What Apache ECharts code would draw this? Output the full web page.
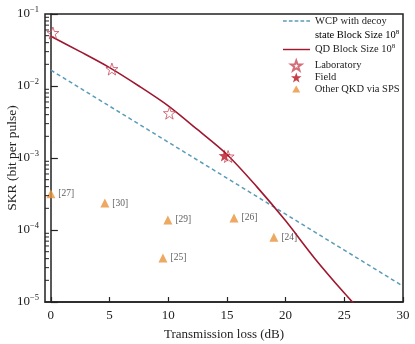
<!DOCTYPE html>
<html><head><meta charset="utf-8">
<script src="https://cdn.jsdelivr.net/npm/echarts@6/dist/echarts.min.js"></script>
<style>html,body{margin:0;padding:0;background:#fff}#c{width:415px;height:344px}</style>
</head><body><div id="c"></div>
<script>
// ---- data ----
const wcpX = [0, 5, 10, 15, 20, 25, 30];
const wcpY = [0.0166, 0.00525, 0.00166, 0.000525, 0.000166, 0.0000525, 0.0000166];
const qdX = [0, 2.5, 5, 7.5, 10, 12.5, 15, 17.5, 20, 22.5, 25, 26.5];
const qdY = [0.049, 0.030, 0.0180, 0.0100, 0.0053, 0.00247, 0.00112, 0.000407, 0.000134, 0.000040, 0.0000133, 0.0000072];
const labX = [0.17, 5.2, 10.1, 15.1];
const labY = [0.0545, 0.0172, 0.0042, 0.00105];
const fieldX = [14.8];
const fieldY = [0.00108];
const spsX = [0.0, 4.6, 9.97, 15.6, 19.0, 9.55];
const spsY = [0.00032, 0.000237, 0.000138, 0.000147, 0.000079, 0.000041];
const spsRefs = ['[27]', '[30]', '[29]', '[26]', '[24]', '[25]'];
const xTicks = [0, 5, 10, 15, 20, 25, 30];
const yTickExps = ['−5', '−4', '−3', '−2', '−1'];
const yMinorTicks = [];
for (let e = -5; e < -1; e++) for (let m = 2; m <= 9; m++) yMinorTicks.push(m * Math.pow(10, e));

const names = {
  wcp: 'WCP with decoy state Block Size 10^8',
  qd: 'QD Block Size 10^8',
  lab: 'Laboratory',
  field: 'Field',
  sps: 'Other QKD via SPS'
};
const FONT = 'Liberation Serif';
const LFS = 10.5;
const STAR = 'path://M0,-10 L2.35,-3.24 L9.51,-3.09 L3.8,1.24 L5.88,8.09 L0,4 L-5.88,8.09 L-3.8,1.24 L-9.51,-3.09 L-2.35,-3.24 Z';
const TRI_ICON = 'path://M-1.25,-1.25 M1.25,1.25 M0,-0.9 L1,0.9 L-1,0.9 Z';
const DASH_ICON = 'path://M0,0 L3.5,0 L3.5,1.4 L0,1.4 Z M5.5,0 L9,0 L9,1.4 L5.5,1.4 Z M11,0 L14.5,0 L14.5,1.4 L11,1.4 Z M16.5,0 L20,0 L20,1.4 L16.5,1.4 Z M22,0 L25.5,0 L25.5,1.4 L22,1.4 Z';
const LINE_ICON = 'path://M0,0 L30,0 L30,1.6 L0,1.6 Z';
const zip = (xs, ys) => xs.map((x, i) => [x, ys[i]]);
const supRich = {
  t: {fontFamily: FONT, fontSize: LFS, color: '#222'},
  s: {fontFamily: FONT, fontSize: 7, color: '#222', padding: [0, 0, 6, 0]}
};
const legendBase = {
  left: 278, itemWidth: 27, itemHeight: 10, selectedMode: false,
  textStyle: {fontFamily: FONT, fontSize: LFS, color: '#222', rich: supRich}
};

const chart = echarts.init(document.getElementById('c'));
chart.setOption({
  animation: false,
  backgroundColor: '#fff',
  grid: {left: 45, right: 12, top: 14, bottom: 42, containLabel: false, outerBoundsMode: 'none',
    show: true, borderColor: '#222', borderWidth: 1.5, backgroundColor: 'transparent'},
  xAxis: {
    type: 'value', min: -0.5, max: 30,
    name: 'Transmission loss (dB)', nameLocation: 'middle', nameGap: 26, nameMoveOverlap: false,
    nameTextStyle: {fontFamily: FONT, fontSize: 13, color: '#222'},
    axisLine: {lineStyle: {color: '#222', width: 1.5}},
    axisTick: {inside: true, length: 5, customValues: xTicks, lineStyle: {color: '#222', width: 1.2}},
    axisLabel: {customValues: xTicks, fontFamily: FONT, fontSize: 13, color: '#222', margin: 7},
    splitLine: {show: false}
  },
  yAxis: {
    type: 'log', logBase: 10, min: 1e-5, max: 1e-1,
    name: 'SKR (bit per pulse)', nameLocation: 'middle', nameGap: 26, nameMoveOverlap: false,
    nameTextStyle: {fontFamily: FONT, fontSize: 13.5, color: '#222'},
    axisLine: {lineStyle: {color: '#222', width: 1.5}},
    axisTick: {inside: true, length: 7, lineStyle: {color: '#222', width: 1.2}},
    axisLabel: {
      margin: 6,
      formatter: v => {
        const i = Math.round(Math.log10(v)) + 5;
        return '{b|10}{s|' + yTickExps[i] + '}';
      },
      rich: {
        b: {fontFamily: FONT, fontSize: 13, color: '#222'},
        s: {fontFamily: FONT, fontSize: 8.5, color: '#222', padding: [0, 0, 8, 0]}
      }
    },
    splitLine: {show: false}
  },
  legend: [
    Object.assign({}, legendBase, {
      data: [{name: names.wcp, icon: DASH_ICON}], top: 10.5,
      formatter: () => '{t|WCP with decoy}'
    }),
    Object.assign({}, legendBase, {
      data: [{name: names.qd, icon: LINE_ICON}], top: 38,
      formatter: () => '{t|QD Block Size 10}{s|8}'
    }),
    Object.assign({}, legendBase, {
      data: [{name: names.lab, icon: STAR}, {name: names.field, icon: STAR}, {name: names.sps, icon: TRI_ICON}],
      orient: 'vertical', left: 285, top: 54.5, itemGap: 0.5,
      formatter: n => '{t|' + n + '}'
    })
  ],
  graphic: [{
    type: 'text', left: 315, top: 29,
    style: {text: '{t|state Block Size 10}{s|8}', rich: supRich}
  }],
  series: [
    {
      name: names.wcp, type: 'line', data: zip(wcpX, wcpY), symbol: 'none',
      lineStyle: {color: '#5a9bb8', width: 1.5, type: [4, 3]}, itemStyle: {color: '#5a9bb8'}
    },
    {
      name: names.qd, type: 'line', data: zip(qdX, qdY), symbol: 'none', smooth: 0.3,
      lineStyle: {color: '#9e1830', width: 1.6}, itemStyle: {color: '#9e1830'}
    },
    {
      name: names.lab, type: 'scatter', data: zip(labX, labY), symbol: STAR, symbolSize: 12,
      itemStyle: {color: 'rgba(255,255,255,0)', borderColor: '#c84a5a', borderWidth: 1}, z: 5
    },
    {
      name: names.field, type: 'scatter', data: zip(fieldX, fieldY), symbol: STAR, symbolSize: 12,
      itemStyle: {color: '#b5121b'}, z: 4
    },
    {
      name: names.sps, type: 'scatter', data: zip(spsX, spsY), symbol: 'triangle', symbolSize: 9,
      itemStyle: {color: '#e8923a'},
      label: {show: true, position: 'right', distance: 3, formatter: p => spsRefs[p.dataIndex],
        fontFamily: FONT, fontSize: 9.5, color: '#333'}
    },
    {
      name: 'minorTicks', type: 'custom', silent: true, clip: false, z: 10,
      data: yMinorTicks.map(v => [-0.5, v]),
      renderItem: (params, api) => {
        const p = api.coord([api.value(0), api.value(1)]);
        return {type: 'line', shape: {x1: p[0], y1: p[1], x2: p[0] + 4, y2: p[1]},
          style: {stroke: '#222', lineWidth: 1}};
      }
    }
  ]
});
</script></body></html>
